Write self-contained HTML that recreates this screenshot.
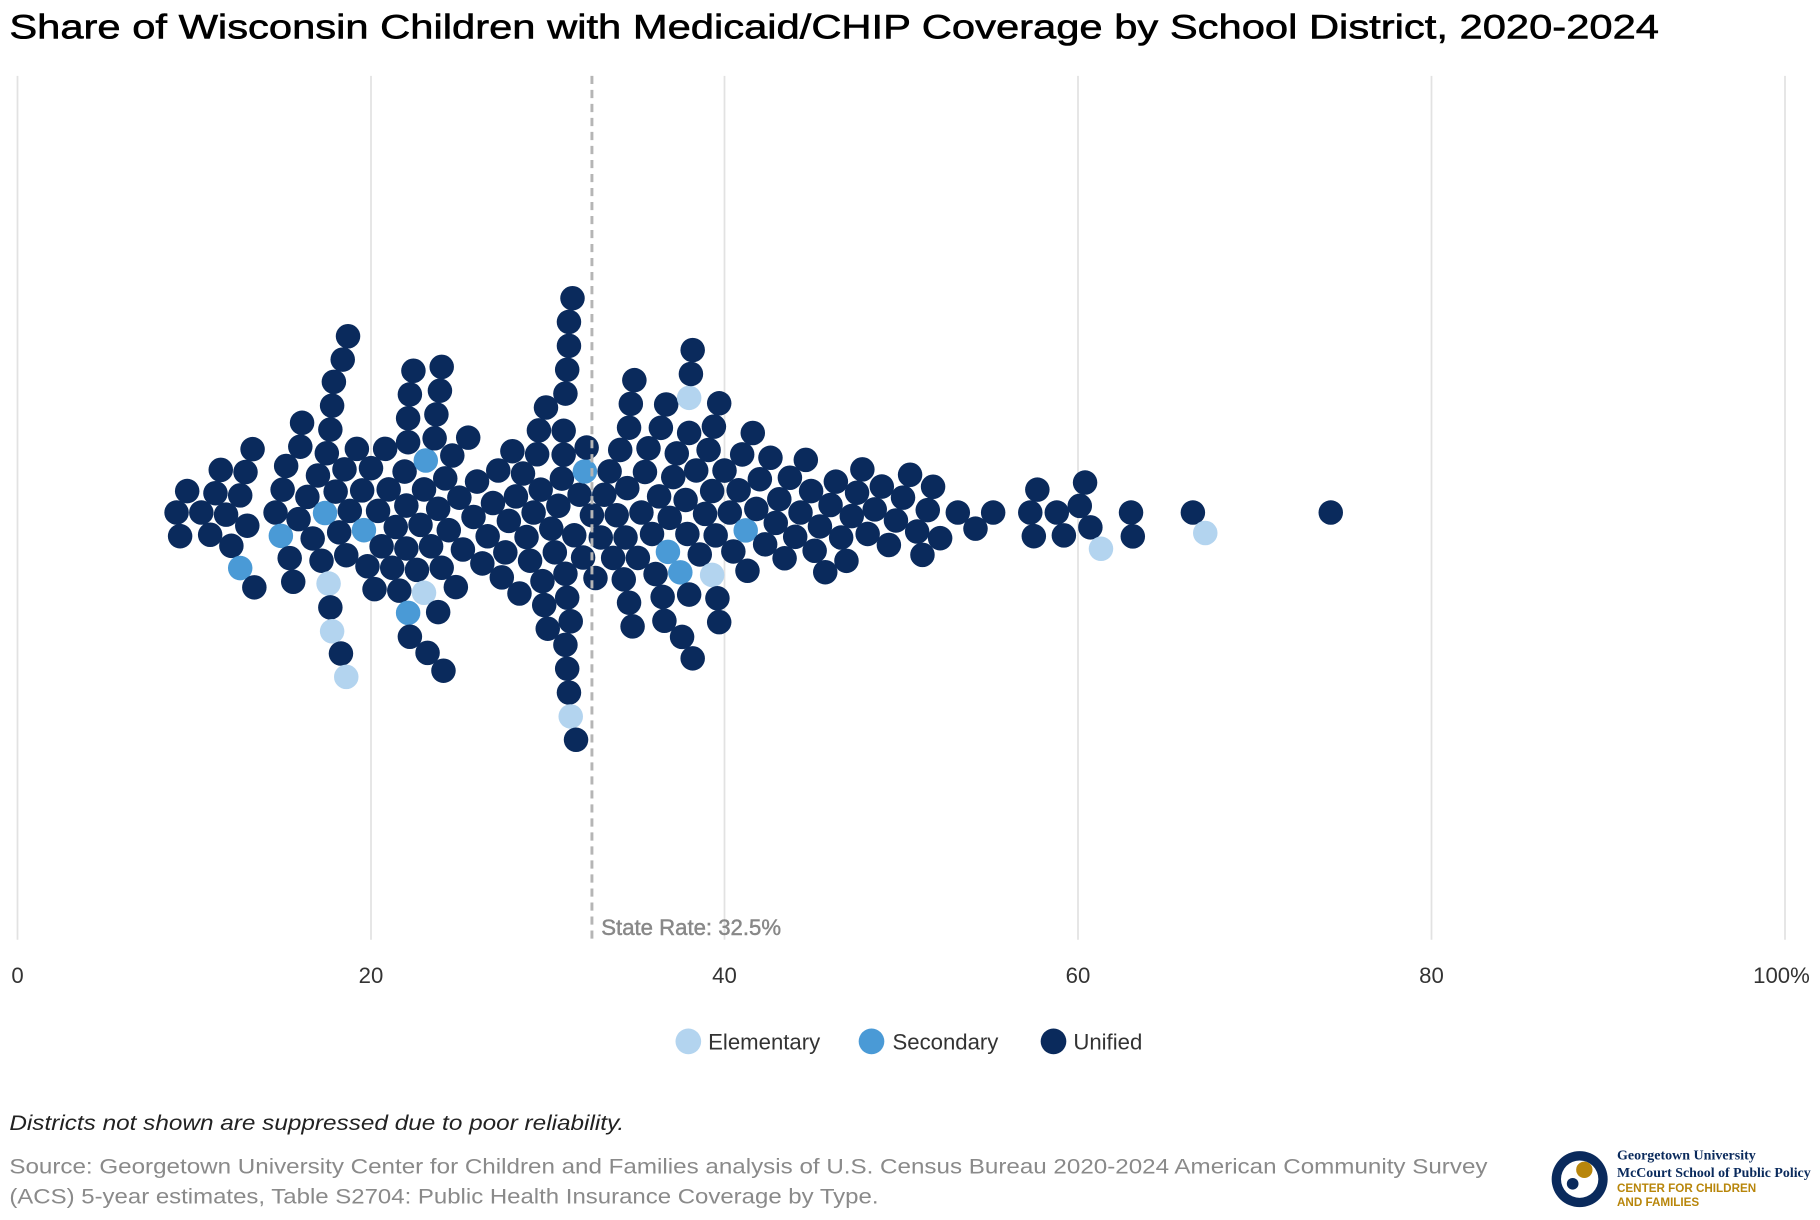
<!DOCTYPE html>
<html><head><meta charset="utf-8"><style>
html,body{margin:0;padding:0;background:#fff;}
svg{display:block;font-family:"Liberation Sans",Arial,sans-serif;}
</style></head><body>
<svg id="chart" width="1820" height="1220" viewBox="0 0 1560 1045" preserveAspectRatio="none" xmlns="http://www.w3.org/2000/svg">
<text x="8" y="33" font-size="29" fill="#000" stroke="#000" stroke-width="0.5" textLength="1414" lengthAdjust="spacingAndGlyphs">Share of Wisconsin Children with Medicaid/CHIP Coverage by School District, 2020-2024</text>
<g id="grid"></g>
<g id="ticks"></g>
<g id="dots"></g>
<line id="stateLine" y1="65" y2="805" stroke="#b5b5b5" stroke-width="2.5" stroke-dasharray="7,5"/>
<text id="stateLabel" y="801" font-size="19" fill="#888" stroke="#888" stroke-width="0.4">State Rate: 32.5%</text>
<g>
<circle cx="590" cy="892" r="11" fill="#b3d4ef"/>
<text x="607" y="899" font-size="19" fill="#333">Elementary</text>
<circle cx="747" cy="892" r="11" fill="#4a9ad6"/>
<text x="765" y="899" font-size="19" fill="#333">Secondary</text>
<circle cx="903" cy="892" r="11" fill="#0a2a5c"/>
<text x="920" y="899" font-size="19" fill="#333">Unified</text>
</g>
<text x="8" y="968" font-size="18" font-style="italic" fill="#222" textLength="527" lengthAdjust="spacingAndGlyphs">Districts not shown are suppressed due to poor reliability.</text>
<text x="8" y="1005" font-size="18" fill="#8a8a8a" textLength="1267" lengthAdjust="spacingAndGlyphs">Source: Georgetown University Center for Children and Families analysis of U.S. Census Bureau 2020-2024 American Community Survey</text>
<text x="8" y="1031" font-size="18" fill="#8a8a8a" textLength="745" lengthAdjust="spacingAndGlyphs">(ACS) 5-year estimates, Table S2704: Public Health Insurance Coverage by Type.</text>
<g>
<circle cx="1354" cy="1010" r="24" fill="#0a2a5c"/>
<circle cx="1354" cy="1010" r="16" fill="#fff"/>
<circle cx="1358" cy="1002" r="7" fill="#b8860b"/>
<circle cx="1348" cy="1014" r="5" fill="#0a2a5c"/>
<text x="1386" y="993" font-size="12" font-family="Liberation Serif,serif" fill="#0a2a5c" font-weight="bold">Georgetown University</text>
<text x="1386" y="1008" font-size="12" font-family="Liberation Serif,serif" fill="#0a2a5c" font-weight="bold" textLength="166" lengthAdjust="spacingAndGlyphs">McCourt School of Public Policy</text>
<text x="1386" y="1021" font-size="10" fill="#b8860b" font-weight="bold">CENTER FOR CHILDREN</text>
<text x="1386" y="1033" font-size="10" fill="#b8860b" font-weight="bold">AND FAMILIES</text>
</g>
</svg>
<script>
const tickValues = [0, 20, 40, 60, 80, 100];
const tickLabels = ["0", "20", "40", "60", "80", "100%"];
const stateRate = [32.5];
const elementaryValues = [17.8, 18.6, 23.0, 31.3, 38.0, 39.3, 61.3, 67.2, 17.6];
const secondaryValues = [14.9, 12.6, 17.4, 19.6, 22.1, 23.1, 32.1, 36.8, 41.2, 37.5];
const unifiedValues = [9.0,9.2,9.6,10.4,10.9,11.2,11.5,11.8,12.1,12.6,12.9,13.0,13.3,13.4,14.6,15.0,15.2,15.4,15.6,15.9,16.0,16.1,16.4,16.7,17.0,17.2,17.5,17.7,17.7,17.8,17.9,18.0,18.2,18.3,18.4,18.5,18.6,18.7,18.8,19.2,19.5,19.8,20.0,20.2,20.4,20.6,20.8,21.0,21.2,21.4,21.6,21.9,22.0,22.0,22.1,22.1,22.2,22.2,22.4,22.6,22.8,23.0,23.2,23.4,23.6,23.7,23.8,23.8,23.9,24.0,24.0,24.1,24.2,24.4,24.6,24.8,25.0,25.2,25.5,25.8,26.0,26.3,26.6,26.9,27.2,27.4,27.6,27.8,28.0,28.2,28.4,28.6,28.8,29.0,29.2,29.4,29.5,29.6,29.7,29.8,29.9,30.0,30.2,30.4,30.6,30.8,30.9,30.9,31.0,31.0,31.0,31.1,31.1,31.1,31.2,31.2,31.2,31.3,31.4,31.5,31.6,31.8,32.0,32.2,32.5,32.7,33.0,33.2,33.5,33.7,33.9,34.1,34.3,34.4,34.5,34.6,34.6,34.7,34.8,34.9,35.1,35.3,35.5,35.7,35.9,36.1,36.3,36.4,36.5,36.6,36.7,36.9,37.1,37.3,37.6,37.8,37.9,38.0,38.0,38.1,38.2,38.2,38.4,38.6,38.9,39.1,39.3,39.4,39.5,39.6,39.7,39.7,40.0,40.3,40.5,40.8,41.0,41.3,41.6,41.8,42.0,42.3,42.6,42.9,43.1,43.4,43.7,44.0,44.3,44.6,44.9,45.1,45.4,45.7,46.0,46.3,46.6,46.9,47.2,47.5,47.8,48.1,48.5,48.9,49.3,49.7,50.1,50.5,50.9,51.2,51.5,51.8,52.2,53.2,54.2,55.2,57.3,57.5,57.7,58.8,59.2,60.1,60.4,60.7,63.0,63.1,66.5,74.3];

const NS = "http://www.w3.org/2000/svg";
const x = v => 15 + v * 15.15;
const CY = 439, R = 10.5, D = 20.5;

const grid = document.getElementById('grid');
const ticks = document.getElementById('ticks');
tickValues.forEach((t, i) => {
  const l = document.createElementNS(NS, 'line');
  
  
  l.setAttribute('x1', x(t)); l.setAttribute('x2', x(t));
  l.setAttribute('y1', 65); l.setAttribute('y2', 805);
  l.setAttribute('stroke', '#e2e2e2'); l.setAttribute('stroke-width', 1.5);
  grid.appendChild(l);
  const tx = document.createElementNS(NS, 'text');
  
  
  tx.setAttribute('x', x(t) + (i === tickValues.length - 1 ? -3 : 0));
  tx.setAttribute('y', 842);
  tx.setAttribute('font-size', 19);
  tx.setAttribute('fill', '#333');
  tx.setAttribute('text-anchor', 'middle');
  tx.textContent = tickLabels[i];
  ticks.appendChild(tx);
});
const sl = document.getElementById('stateLine');
sl.setAttribute('x1', x(stateRate[0])); sl.setAttribute('x2', x(stateRate[0]));
document.getElementById('stateLabel').setAttribute('x', x(stateRate[0]) + 8);

const pts = [];
unifiedValues.forEach(v => pts.push({v, c: '#0a2a5c', n: 'unified'}));
secondaryValues.forEach(v => pts.push({v, c: '#4a9ad6', n: 'secondary'}));
elementaryValues.forEach(v => pts.push({v, c: '#b3d4ef', n: 'elementary'}));
pts.sort((a, b) => a.v - b.v);
const placed = [];
pts.forEach(p => {
  const px = x(p.v);
  const near = placed.filter(q => Math.abs(q.x - px) < D);
  const cands = [0];
  near.forEach(q => {
    const dy = Math.sqrt(D * D - (q.x - px) ** 2);
    cands.push(q.y + dy, q.y - dy);
  });
  cands.sort((a, b) => Math.abs(a) - Math.abs(b));
  let y = 0;
  for (const c of cands) {
    if (near.every(q => (q.x - px) ** 2 + (q.y - c) ** 2 >= D * D - 0.01)) { y = c; break; }
  }
  p.x = px; p.y = y;
  placed.push(p);
});
const g = document.getElementById('dots');
placed.forEach(p => {
  const c = document.createElementNS(NS, 'circle');
  
  
  c.setAttribute('cx', p.x); c.setAttribute('cy', CY + p.y);
  c.setAttribute('r', R); c.setAttribute('fill', p.c);
  g.appendChild(c);
});
</script>
</body></html>
